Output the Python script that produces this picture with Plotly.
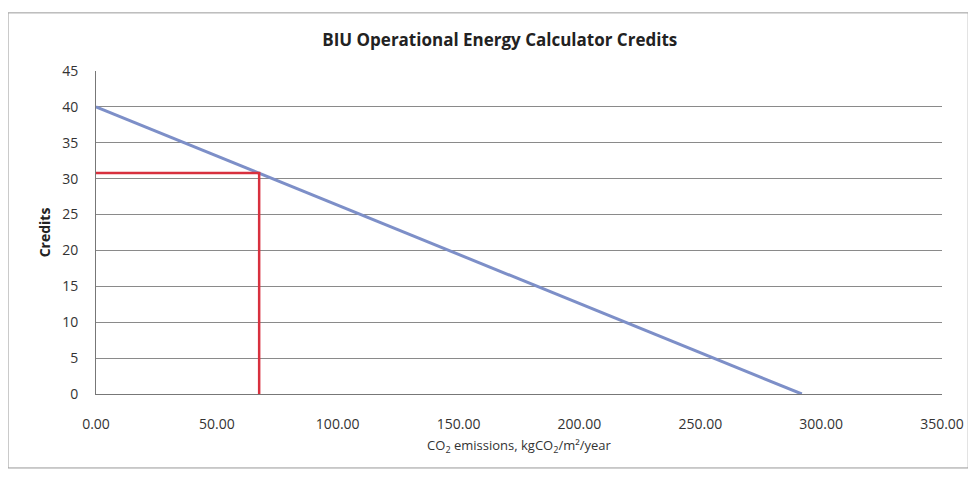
import plotly.graph_objects as go

# Data
credit_x = [0.0, 292.0]
credit_y = [40.0, 0.0]
marker_x = [0.0, 67.5, 67.5]
marker_y = [30.8, 30.8, 0.0]
x_ticks = [0, 50, 100, 150, 200, 250, 300, 350]
x_tick_labels = ["0.00", "50.00", "100.00", "150.00", "200.00", "250.00", "300.00", "350.00"]
y_ticks = [0, 5, 10, 15, 20, 25, 30, 35, 40, 45]

font_family = "Liberation Sans Narrow, Open Sans, DejaVu Sans, sans-serif"

fig = go.Figure()
fig.add_trace(go.Scatter(x=credit_x, y=credit_y, mode="lines",
                         line=dict(color="#7d8fc8", width=3), showlegend=False))
fig.add_trace(go.Scatter(x=marker_x, y=marker_y, mode="lines",
                         line=dict(color="#d8303e", width=2.5), showlegend=False))

fig.update_layout(
    width=968, height=471,
    margin=dict(l=88, r=34, t=63, b=85),
    paper_bgcolor="white", plot_bgcolor="white",
    title=dict(text="<b>BIU Operational Energy Calculator Credits</b>",
               x=0.508, xanchor="center", y=0.932, yanchor="middle",
               font=dict(family=font_family, size=17, color="#222")),
    font=dict(family=font_family, color="#333", size=13),
    xaxis=dict(range=[0, 350], tickvals=x_ticks, ticktext=x_tick_labels,
               showgrid=False, zeroline=False, showline=True, linecolor="#777",
               linewidth=1, ticks="", ticklabelstandoff=17,
               tickfont=dict(size=14, color="#333"),
               title=dict(text="CO<sub>2</sub> emissions, kgCO<sub>2</sub>/m²/year",
                          font=dict(size=13, color="#333"), standoff=9)),
    yaxis=dict(range=[0, 45], tickvals=y_ticks, showgrid=True, gridcolor="#8a8a8a",
               gridwidth=1, zeroline=False, showline=True, linecolor="#777",
               linewidth=1, ticks="", ticklabelstandoff=14,
               tickfont=dict(size=14, color="#333"),
               title=dict(text="<b>Credits</b>", font=dict(size=14, color="#222"),
                          standoff=8)),
)

fig.add_shape(type="rect", xref="paper", yref="paper", x0=-0.104, x1=1.031,
              y0=-0.229, y1=1.18, line=dict(color="#999", width=1))

fig.write_html("out.html")
